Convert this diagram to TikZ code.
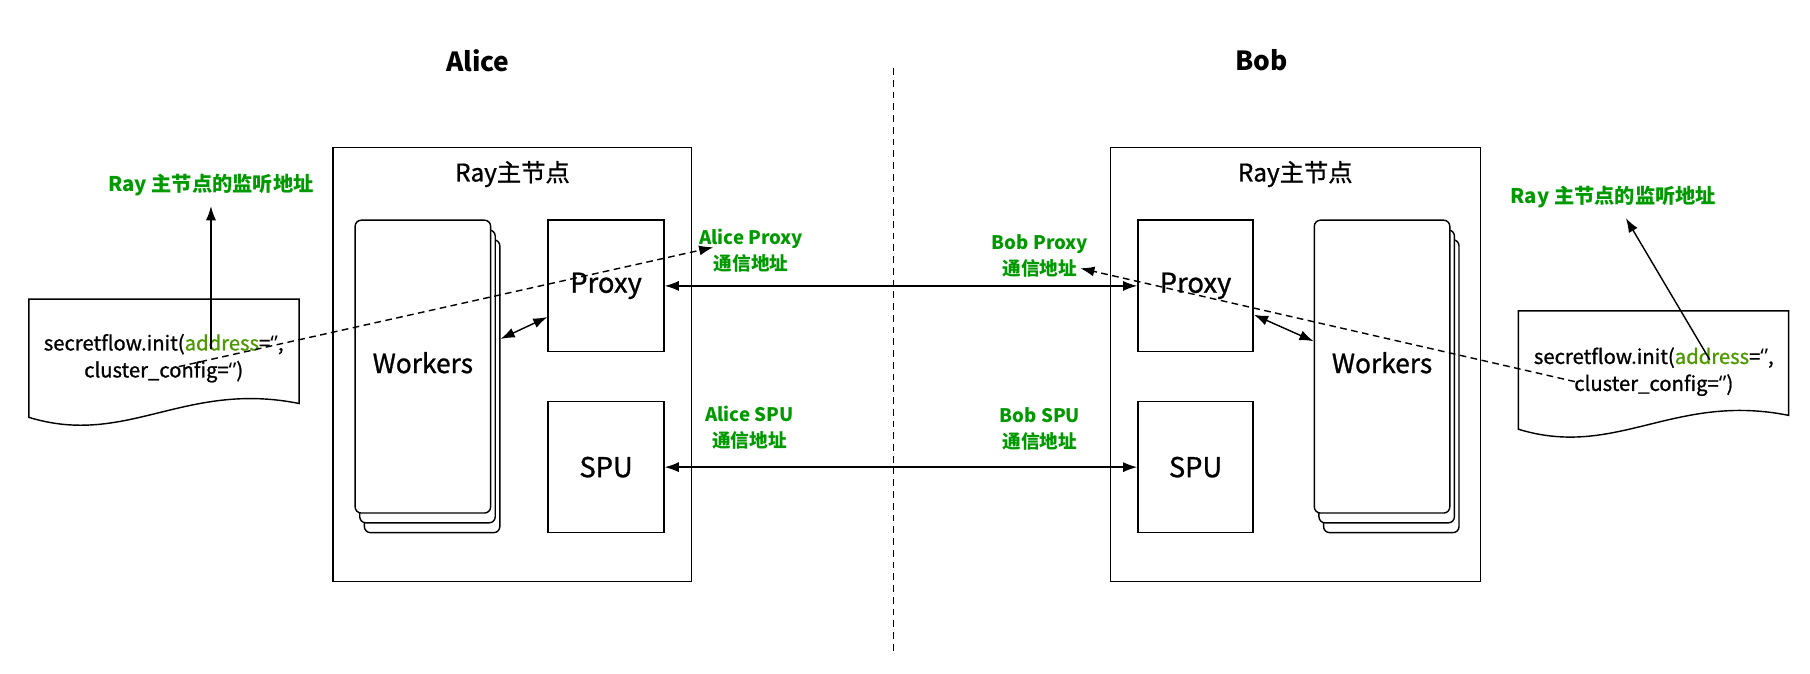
\documentclass[tikz,border=0pt]{standalone}
\usepackage{fontspec}
\setmainfont{Noto Sans CJK SC}
\newfontfamily\medfont{Noto Sans CJK SC}[FakeBold=1]
\newfontfamily\qfont{Noto Sans}
\usetikzlibrary{calc, arrows.meta}
\definecolor{lblgreen}{HTML}{009900}
\definecolor{kwgreen}{HTML}{4D9900}

\begin{document}
\begin{tikzpicture}[x=0.2mm, y=-0.2mm,
>={Latex[length=7pt,width=5pt]},
line/.style = {draw, line width=0.7pt},
box/.style = {% hosts and services
    line, inner sep=0pt, font=\medfont\fontsize{13.5}{16}\selectfont,
             },
wk/.style = {% stacked worker cards
    line, fill=white, rounded corners=3pt, inner sep=0pt,
    minimum width=2.35cm, minimum height=5.08cm,
    font=\medfont\fontsize{13}{16}\selectfont,
            },
doc/.style = {line, fill=white},
code/.style = {align=center, inner sep=0pt, font=\medfont\fontsize{10}{13.3}\selectfont},
lbl/.style = {% green address labels
    text=lblgreen, align=center, inner sep=1pt,
    font=\fontsize{9.2}{13}\selectfont\bfseries,
             },
listen/.style = {lbl, outer sep=4pt, font=\fontsize{10}{12}\selectfont\bfseries},
party/.style = {font=\fontsize{13}{15}\selectfont\bfseries},
title/.style = {font=\medfont\fontsize{12}{14}\selectfont},
split/.style = {line, dash pattern=on 3.4pt off 2.4pt},
                        ]
\useasboundingbox (0,0) rectangle (1570,584);
% parties
\node[party] (alice) at (414.5,52.5) {Alice};
\node[party] (bob) at (1094,52.5) {Bob};
\coordinate (divTop) at (775,59);
\coordinate (divBot) at (775,565);
\draw[split] (divTop) -- (divBot);
% ray head nodes
\node[box, minimum width=6.22cm, minimum height=7.53cm] (aRay) at (444.5,316.3) {};
\node[box, minimum width=6.42cm, minimum height=7.53cm] (bRay) at (1123.5,316.3) {};
\node[title] (aRayT) at (444.5,151) {Ray主节点};
\node[title] (bRayT) at (1123.5,151) {Ray主节点};
% proxy and spu
\node[box, minimum width=2.01cm, minimum height=2.28cm] (aProxy) at (525.7,248) {Proxy};
\node[box, minimum width=2.01cm, minimum height=2.27cm] (aSPU) at (525.7,405.2) {SPU};
\node[box, minimum width=2cm, minimum height=2.28cm] (bProxy) at (1037,248) {Proxy};
\node[box, minimum width=2cm, minimum height=2.27cm] (bSPU) at (1037,405.2) {SPU};
% workers
\foreach \n/\d in {3/2, 2/1}{\node[wk] (aWk\n) at ($(366.8,318)+(4*\d,8.5*\d)$) {};}
\node[wk] (aWk) at (366.8,318) {\raisebox{4pt}{Workers}};
\foreach \n/\d in {3/2, 2/1}{\node[wk] (bWk\n) at ($(1198.8,318)+(4*\d,8.5*\d)$) {};}
\node[wk] (bWk) at (1198.8,318) {\raisebox{4pt}{Workers}};
% init scripts
\draw[doc] (25,259.4) -- (259.5,259.4) -- (259.5,350)
    .. controls (160,330) and (110,388) .. (25,362) -- cycle;
\begin{scope}[shift={(1292,10.3)}]
\draw[doc] (25,259.4) -- (259.5,259.4) -- (259.5,350)
    .. controls (160,330) and (110,388) .. (25,362) -- cycle;
\end{scope}
\node[code] (aInit) at (142,310.7)
    {secretflow.init(\textcolor{kwgreen}{address}={\qfont ‘\kern0.3pt’},\\cluster\_config={\qfont ‘\kern0.3pt’})};
\node[code] (bInit) at (1434.5,322.4)
    {secretflow.init(\textcolor{kwgreen}{address}={\qfont ‘\kern0.3pt’},\\cluster\_config={\qfont ‘\kern0.3pt’})};
% labels
\node[listen] (aListen) at (183,160.5) {Ray 主节点的监听地址};
\node[listen] (bListen) at (1399.5,171) {Ray 主节点的监听地址};
\node[lbl] (aPxLbl) at (651.5,217.5) {Alice Proxy\\通信地址};
\node[lbl] (bPxLbl) at (902,222) {Bob Proxy\\通信地址};
\node[lbl] (aSpuLbl) at (650,371) {Alice SPU\\通信地址};
\node[lbl] (bSpuLbl) at (902,372) {Bob SPU\\通信地址};
% links
\draw[line, <->] (aProxy) -- (bProxy);
\draw[line, <->] (aSPU) -- (bSPU);
\draw[line, <->] ($(aWk3.east)+(0,-41)$) -- ($(aProxy.west)+(0,27)$);
\draw[line, <->] ($(bProxy.east)+(0,25)$) -- ($(bWk.west)+(0,-22)$);
\coordinate (aAddr) at (183,303);
\coordinate (bAddr) at (1483,312);
\draw[line, ->] (aAddr) -- (aListen);
\draw[line, ->] (bAddr) -- (bListen);
\coordinate (aPxFrom) at (155,318);
\coordinate (aPxTo) at (618.7,214.5);
\coordinate (bPxFrom) at (1366,331);
\coordinate (bPxTo) at (937,232.7);
\draw[line, ->, dash pattern=on 3.3pt off 2.2pt] (aPxFrom) -- (aPxTo);
\draw[line, ->, dash pattern=on 3.3pt off 2.2pt] (bPxFrom) -- (bPxTo);
\end{tikzpicture}
\end{document}
